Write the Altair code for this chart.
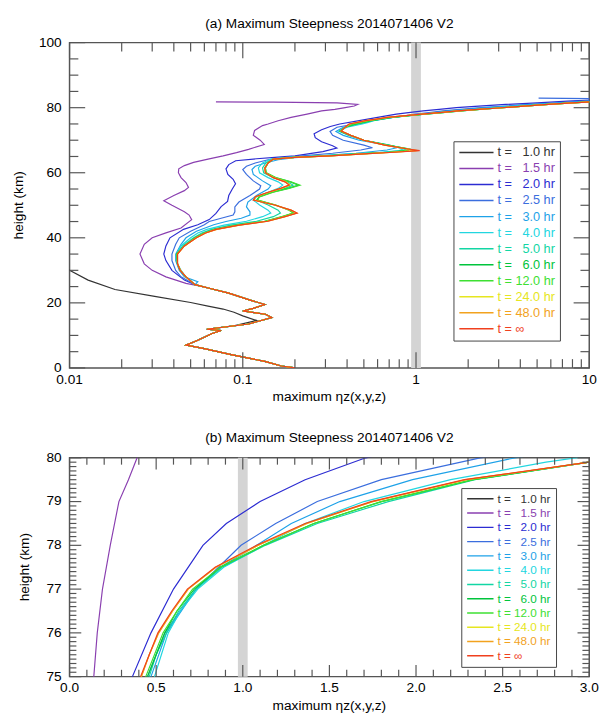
import altair as alt
import pandas as pd

FONT = "Liberation Sans"

TITLE_A = "(a) Maximum Steepness 2014071406 V2"
TITLE_B = "(b) Maximum Steepness 2014071406 V2"
X_TITLE = "maximum \u03b7z(x,y,z)"
Y_TITLE = "height (km)"

LABELS = ["t = \u00a0\u00a01.0 hr", "t = \u00a0\u00a01.5 hr", "t = \u00a0\u00a02.0 hr", "t = \u00a0\u00a02.5 hr",
          "t = \u00a0\u00a03.0 hr", "t = \u00a0\u00a04.0 hr", "t = \u00a0\u00a05.0 hr", "t = \u00a0\u00a06.0 hr",
          "t = 12.0 hr", "t = 24.0 hr", "t = 48.0 hr", "t = \u221e"]
COLORS = ["#333333", "#8a3fb0", "#2c2cd2", "#3b6ede", "#1ea2e8", "#22d6e0",
          "#12d6a4", "#00c43c", "#3ee032", "#e6e620", "#f2a21e", "#f0401e"]

# shared lower profile (height km, max steepness)
LOW_H = [0, 0.6, 2, 4, 6, 7, 7.6, 8.5, 10.5, 11.5, 11.9, 13.5, 15.5, 16.5, 17.5, 18.3, 19.5, 21, 23, 24.5, 25.6]
LOW_X = [0.20, 0.167, 0.134, 0.087, 0.059, 0.047, 0.050, 0.055, 0.066, 0.075, 0.062, 0.108, 0.147, 0.135, 0.100,
         0.115, 0.134, 0.108, 0.083, 0.064, 0.053]

H_10 = [13.0, 14.6, 16.0, 17.1, 18.1, 19.0, 20.1, 22.0, 24.1, 27.0, 30.0, 31.0]
X_10 = [0.090, 0.120, 0.100, 0.089, 0.077, 0.063, 0.050, 0.031, 0.0183, 0.0128, 0.0100, 0.0094]

H_15 = [25.2, 26, 28, 30, 32, 35, 38, 40, 41.5, 43, 45.6, 47, 48, 50, 51.4, 53, 54.5, 55.5, 57, 58.5,
        60, 61.2, 62.2, 63.2, 64.2, 65.2, 66.2, 67.2, 68.7, 70, 71.5, 73, 74.5, 75, 76, 77, 78, 79, 79.5, 80,
        80.5, 81, 81.5, 81.7, 81.8]
X_15 = [0.056, 0.047, 0.036, 0.030, 0.027, 0.0255, 0.027, 0.030, 0.036, 0.044, 0.0507, 0.049, 0.046, 0.039, 0.035,
        0.040, 0.046, 0.0486, 0.047, 0.044, 0.0425, 0.0427, 0.046, 0.052, 0.063, 0.077, 0.092, 0.108, 0.133, 0.126,
        0.115, 0.117, 0.13, 0.14, 0.16, 0.19, 0.235, 0.285, 0.34, 0.39, 0.44, 0.461, 0.35, 0.15, 0.07]

H_20 = [27, 30, 33, 35, 37.5, 40, 42.6, 44, 45.6, 47.5, 49.6, 51.2, 53, 55, 56.6, 58, 59.5, 61.2, 62.5, 63.7,
        64.3, 64.8, 65.2, 66.5, 67.6, 68.3, 69.5, 70.8, 72.0, 73.2, 74.2, 75, 76, 77, 78, 78.5, 79, 79.5, 80, 80.5,
        81, 81.5, 82, 82.4]
X_20 = [0.046, 0.039, 0.036, 0.035, 0.036, 0.038, 0.0455, 0.055, 0.064, 0.070, 0.075, 0.0817, 0.083, 0.087, 0.0908,
        0.088, 0.082, 0.080, 0.083, 0.091, 0.12, 0.16, 0.20, 0.29, 0.349, 0.33, 0.285, 0.262, 0.258, 0.285,
        0.32, 0.363, 0.47, 0.60, 0.77, 0.905, 1.10, 1.36, 1.71, 2.3, 3.3, 5.0, 7.5, 10.5]

H_25 = [28, 30, 33, 35, 38, 40, 42, 44, 45, 46, 47, 48, 49.5, 51, 53, 55, 56, 57.5, 59.5, 61,
        62, 63, 64, 64.6, 65.2, 66, 67, 67.7, 68.5, 70, 71.5, 72.7, 74, 75, 76, 77, 77.5, 78, 78.5, 79,
        79.5, 80, 80.5, 81, 81.5, 82, 82.4, 82.7, 82.95]
X_25 = [0.044, 0.041, 0.039, 0.039, 0.041, 0.043, 0.050, 0.060, 0.064, 0.075, 0.088, 0.090, 0.090, 0.095, 0.110,
        0.125, 0.127, 0.115, 0.105, 0.100, 0.105, 0.118, 0.14, 0.17, 0.22, 0.33, 0.48, 0.56, 0.50, 0.38,
        0.33, 0.319, 0.35, 0.45, 0.55, 0.73, 0.86, 0.99, 1.19, 1.43, 1.80, 2.37, 3.3, 4.6, 6.5, 9.0, 12, 14, 5.1]

H_30 = [26.5, 28, 30, 33, 35, 38, 40, 42, 44, 45, 46, 47, 48, 49.5, 51, 53, 55, 56, 57.5, 59.5,
        61, 62, 63, 64, 64.6, 65.2, 66, 67, 67.7, 68.5, 70, 71.5, 72.7, 74, 75, 76, 77, 77.5, 78, 78.5,
        79, 79.5, 80, 80.5, 81, 81.5, 82, 82.4]
X_30 = [0.055, 0.046, 0.043, 0.041, 0.041, 0.044, 0.047, 0.054, 0.068, 0.080, 0.098, 0.110, 0.110, 0.105, 0.107,
        0.120, 0.140, 0.145, 0.130, 0.115, 0.113, 0.118, 0.135, 0.16, 0.20, 0.28, 0.45, 0.68, 0.776, 0.68,
        0.47, 0.38, 0.345, 0.38, 0.47, 0.56, 0.73, 0.87, 1.08, 1.28, 1.56, 1.98, 2.57, 3.4, 4.8, 7.0, 10.0, 13]

# heights shared by the late-time cluster (4.0 hr ... infinity)
CL_H = [28, 30, 32, 35, 37.5, 40, 41.5, 42.6, 43.9, 45.1, 46.5, 47.6, 48.5, 50.1, 51.6, 52.6, 54, 55.2, 56.2, 57.2,
        58.5, 60, 61.5, 63, 64.2, 64.7, 65.2, 65.8, 66.3, 66.8, 67.3, 68.5, 70, 71.5, 72.8, 74, 75, 75.5, 76, 76.5,
        77, 77.5, 78, 78.5, 79, 79.5, 79.9, 80.5, 81, 81.5, 81.9]
X_40 = [0.047, 0.044, 0.042, 0.0415, 0.044, 0.050, 0.055, 0.062, 0.078, 0.105, 0.130, 0.145, 0.140, 0.125, 0.115,
        0.120, 0.140, 0.160, 0.170, 0.160, 0.140, 0.125, 0.123, 0.130, 0.145, 0.18, 0.27, 0.42, 0.62, 0.80,
        0.84, 0.70, 0.50, 0.41, 0.36, 0.40, 0.49, 0.53, 0.57, 0.64, 0.74, 0.89, 1.12, 1.36, 1.70, 2.2, 2.75,
        3.8, 5.3, 7.5, 10.5]
X_50 = [0.047, 0.0435, 0.042, 0.0415, 0.045, 0.052, 0.058, 0.066, 0.085, 0.120, 0.150, 0.165, 0.160, 0.140, 0.120,
        0.125, 0.145, 0.175, 0.195, 0.180, 0.150, 0.132, 0.130, 0.136, 0.148, 0.19, 0.29, 0.45, 0.65, 0.84,
        0.88, 0.70, 0.50, 0.41, 0.36, 0.39, 0.46, 0.50, 0.56, 0.63, 0.73, 0.88, 1.13, 1.43, 1.84, 2.34, 3.0,
        4.2, 5.8, 8.0, 11]
X_60 = [0.047, 0.0435, 0.042, 0.0415, 0.046, 0.053, 0.060, 0.069, 0.093, 0.135, 0.170, 0.197, 0.186, 0.154, 0.121,
        0.124, 0.148, 0.182, 0.210, 0.188, 0.154, 0.136, 0.135, 0.140, 0.150, 0.20, 0.31, 0.48, 0.70, 0.88,
        0.918, 0.68, 0.50, 0.42, 0.365, 0.39, 0.45, 0.50, 0.55, 0.62, 0.72, 0.87, 1.12, 1.41, 1.80, 2.33, 3.0,
        4.2, 5.8, 8.0, 11]
X_120 = [0.047, 0.0435, 0.042, 0.0415, 0.046, 0.053, 0.060, 0.069, 0.092, 0.133, 0.168, 0.195, 0.185, 0.155, 0.122,
         0.125, 0.150, 0.185, 0.214, 0.190, 0.155, 0.137, 0.135, 0.140, 0.150, 0.20, 0.31, 0.48, 0.70, 0.90,
         0.91, 0.68, 0.50, 0.42, 0.365, 0.39, 0.44, 0.49, 0.54, 0.62, 0.71, 0.87, 1.12, 1.41, 1.80, 2.33, 3.0,
         4.2, 5.8, 8.0, 11]
X_240 = [0.047, 0.0436, 0.042, 0.042, 0.046, 0.054, 0.061, 0.070, 0.095, 0.138, 0.174, 0.204, 0.189, 0.153, 0.116,
         0.119, 0.142, 0.168, 0.188, 0.177, 0.151, 0.135, 0.134, 0.140, 0.150, 0.20, 0.32, 0.50, 0.74, 1.00,
         0.89, 0.66, 0.50, 0.42, 0.37, 0.39, 0.415, 0.46, 0.515, 0.595, 0.685, 0.845, 1.09, 1.37, 1.75, 2.29, 3.0,
         4.2, 5.8, 8.0, 11]
X_480 = [0.047, 0.0437, 0.042, 0.042, 0.046, 0.054, 0.061, 0.071, 0.096, 0.140, 0.176, 0.205, 0.190, 0.152, 0.116,
         0.119, 0.141, 0.166, 0.186, 0.176, 0.150, 0.135, 0.134, 0.140, 0.150, 0.20, 0.32, 0.50, 0.74, 1.02,
         0.89, 0.66, 0.50, 0.42, 0.37, 0.39, 0.415, 0.46, 0.515, 0.595, 0.685, 0.845, 1.09, 1.37, 1.75, 2.29, 3.0,
         4.2, 5.8, 8.0, 11]
X_INF = [0.047, 0.0435, 0.042, 0.042, 0.046, 0.054, 0.061, 0.070, 0.095, 0.139, 0.175, 0.206, 0.190, 0.153, 0.115,
         0.118, 0.140, 0.165, 0.185, 0.175, 0.150, 0.135, 0.134, 0.140, 0.150, 0.20, 0.32, 0.50, 0.75, 1.05,
         0.90, 0.66, 0.50, 0.42, 0.37, 0.39, 0.41, 0.46, 0.51, 0.59, 0.68, 0.84, 1.08, 1.36, 1.74, 2.28, 3.0,
         4.2, 5.8, 8.0, 11]

BAND_X = [1.0]

# axis tick values (labelled majors and unlabelled minors)
XA_MAJ = [0.01, 0.1, 1, 10]
XA_MIN = [m * d for d in [0.01, 0.1, 1] for m in range(2, 10)]
YA_MAJ = [0, 20, 40, 60, 80, 100]
YA_MIN = [v for v in range(5, 100, 5) if v % 20]
XB_MAJ = [0.0, 0.5, 1.0, 1.5, 2.0, 2.5, 3.0]
XB_MIN = [round(i * 0.1, 1) for i in range(1, 30) if i % 5]
YB_MAJ = [75, 76, 77, 78, 79, 80]
YB_MIN = [round(75 + i * 0.1, 1) for i in range(1, 50) if i % 10]

curves = [
    (LOW_H[:11] + H_10, LOW_X[:11] + X_10),
    (LOW_H[:-1] + H_15, LOW_X[:-1] + X_15),
    (LOW_H + H_20, LOW_X + X_20),
    (LOW_H + H_25, LOW_X + X_25),
    (LOW_H + H_30, LOW_X + X_30),
    (LOW_H + CL_H, LOW_X + X_40),
    (LOW_H + CL_H, LOW_X + X_50),
    (LOW_H + CL_H, LOW_X + X_60),
    (LOW_H + CL_H, LOW_X + X_120),
    (LOW_H + CL_H, LOW_X + X_240),
    (LOW_H + CL_H, LOW_X + X_480),
    (LOW_H + CL_H, LOW_X + X_INF),
]
rows = []
for lab, (hs, xs) in zip(LABELS, curves):
    for i, (hh, xx) in enumerate(zip(hs, xs)):
        rows.append({"series": lab, "idx": i, "h": hh, "x": xx})
df = pd.DataFrame(rows)

TICK = "#555555"
cscale = alt.Scale(domain=LABELS, range=COLORS)


def panel(title, toff, xscale, yscale, xmaj, xmin, ymaj, ymin, xfmt, yfmt,
          w, h, majlen, minlen, legx, legy, legfont, legsym, legrow, ytitle_x):
    band = alt.Chart(pd.DataFrame({"b": BAND_X})).mark_rule(color="#d4d4d4", strokeWidth=10).encode(
        x=alt.X("b:Q", scale=xscale, axis=None))
    lines = alt.Chart(df).mark_line(clip=True, strokeWidth=1.2).encode(
        x=alt.X("x:Q", scale=xscale, axis=None),
        y=alt.Y("h:Q", scale=yscale, axis=None),
        color=alt.Color("series:N", scale=cscale,
                        legend=alt.Legend(orient="none", legendX=legx, legendY=legy, title=None,
                                          labelFont=FONT, labelFontSize=legfont,
                                          labelColor={"expr": "scale('color', datum.value)"},
                                          symbolType="stroke", symbolSize=legsym * legsym,
                                          symbolStrokeWidth=1.5, clipHeight=legfont,
                                          rowPadding=legrow, labelOffset=3, padding=5,
                                          strokeColor="#444444", fillColor="white")),
        order="idx:Q",
    )

    # inward tick marks on all four sides, positioned through the scales
    def xticks(vals, length, top):
        y0, y1 = (0, length) if top else (h, h - length)
        return alt.Chart(pd.DataFrame({"t": vals})).mark_rule(color=TICK, strokeWidth=1.2).encode(
            x=alt.X("t:Q", scale=xscale, axis=None), y=alt.value(y0), y2=alt.value(y1))

    def yticks(vals, length, right):
        x0, x1 = (w, w - length) if right else (0, length)
        return alt.Chart(pd.DataFrame({"t": vals})).mark_rule(color=TICK, strokeWidth=1.2).encode(
            y=alt.Y("t:Q", scale=yscale, axis=None), x=alt.value(x0), x2=alt.value(x1))

    ticks = [xticks(xmaj, majlen, False), xticks(xmin, minlen, False),
             xticks(xmaj, majlen, True), xticks(xmin, minlen, True),
             yticks(ymaj, majlen, False), yticks(ymin, minlen, False),
             yticks(ymaj, majlen, True), yticks(ymin, minlen, True)]

    # tick labels and axis titles
    txt = dict(font=FONT, fontSize=14, color="black")
    xlab = alt.Chart(pd.DataFrame({"t": xmaj})).mark_text(align="center", baseline="middle", **txt).encode(
        x=alt.X("t:Q", scale=xscale, axis=None), y=alt.value(h + 12), text=alt.Text("t:Q", format=xfmt))
    ylab = alt.Chart(pd.DataFrame({"t": ymaj})).mark_text(align="right", baseline="middle", **txt).encode(
        y=alt.Y("t:Q", scale=yscale, axis=None), x=alt.value(-8), text=alt.Text("t:Q", format=yfmt))
    xtit = alt.Chart(pd.DataFrame({"s": [X_TITLE]})).mark_text(align="center", baseline="middle", **txt).encode(
        x=alt.value(w / 2), y=alt.value(h + 30), text="s:N")
    ytit = alt.Chart(pd.DataFrame({"s": [Y_TITLE]})).mark_text(align="center", baseline="middle", angle=270,
                                                               **txt).encode(
        x=alt.value(ytitle_x), y=alt.value(h / 2), text="s:N")

    return alt.layer(band, lines, *ticks, xlab, ylab, xtit, ytit).properties(
        width=w, height=h,
        title=alt.TitleParams(title, font=FONT, fontSize=14, fontWeight="normal", color="black", offset=toff))


pa = panel(TITLE_A, 5,
           alt.Scale(type="log", domain=[0.01, 10], nice=False),
           alt.Scale(domain=[0, 100], nice=False, zero=False),
           XA_MAJ, XA_MIN, YA_MAJ, YA_MIN, "~g", "d",
           532, 333, 16, 9, 393, 101, 13, 35, 2.4, -52)

pb = panel(TITLE_B, 6,
           alt.Scale(domain=[0, 3], nice=False, zero=False),
           alt.Scale(domain=[75, 80], nice=False, zero=False),
           XB_MAJ, XB_MIN, YB_MAJ, YB_MIN, ".1f", "d",
           532, 224, 12, 7, 401, 31, 12, 27, 2.6, -45)

chart = alt.vconcat(pa, pb, spacing=26).resolve_legend(color="independent").configure_view(
    stroke="#555555", strokeWidth=1.5).properties(
    padding={"left": 3, "top": 0, "right": 0, "bottom": 0}, background="white")

chart.save("out.html", embed_options={"renderer": "svg", "actions": False})
